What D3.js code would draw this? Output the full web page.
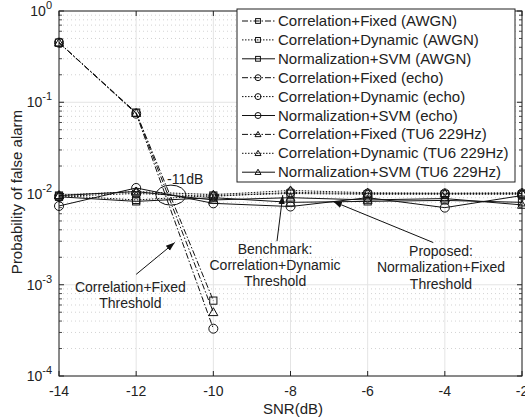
<!DOCTYPE html>
<html>
<head>
<meta charset="utf-8">
<script src="https://cdn.jsdelivr.net/npm/d3@7"></script>
<style>
  body { margin: 0; background: #fff; }
  svg { font-family: "Liberation Sans", Arial, sans-serif; }
</style>
</head>
<body>
<svg id="chart" width="525" height="417"></svg>
<script>
// SNR points
var snr = [-14, -12, -10, -8, -6, -4, -2];
var snrFixed = [-14, -12, -10];

// Correlation + fixed threshold (dash-dot)
var corrFixedAWGN = [0.45, 0.077, 6.7e-4];
var corrFixedEcho = [0.45, 0.075, 3.3e-4];
var corrFixedTU6 = [0.45, 0.076, 5.0e-4];

// Correlation + dynamic threshold (dotted)
var corrDynAWGN = [0.0095, 0.0085, 0.0095, 0.0100, 0.0098, 0.0098, 0.0098];
var corrDynEcho = [0.0093, 0.0100, 0.0093, 0.0103, 0.0100, 0.0100, 0.0100];
var corrDynTU6 = [0.0096, 0.0105, 0.0097, 0.0108, 0.0102, 0.0101, 0.0102];

// Normalization + SVM (solid)
var svmAWGN = [0.0092, 0.0082, 0.0090, 0.0080, 0.0082, 0.0084, 0.0080];
var svmEcho = [0.0073, 0.0115, 0.0078, 0.0072, 0.0090, 0.0070, 0.0095];
var svmTU6 = [0.0095, 0.0105, 0.0085, 0.0090, 0.0085, 0.0088, 0.0075];

var xTicks = [-14, -12, -10, -8, -6, -4, -2];
var yTickExp = [0, -1, -2, -3, -4];

var series = [
  {name: "Correlation+Fixed (AWGN)", x: snrFixed, y: corrFixedAWGN, dash: "6,2,1.5,2", mark: "square"},
  {name: "Correlation+Dynamic (AWGN)", x: snr, y: corrDynAWGN, dash: "1.5,1.5", mark: "square"},
  {name: "Normalization+SVM (AWGN)", x: snr, y: svmAWGN, dash: null, mark: "square"},
  {name: "Correlation+Fixed (echo)", x: snrFixed, y: corrFixedEcho, dash: "6,2,1.5,2", mark: "circle"},
  {name: "Correlation+Dynamic (echo)", x: snr, y: corrDynEcho, dash: "1.5,1.5", mark: "circle"},
  {name: "Normalization+SVM (echo)", x: snr, y: svmEcho, dash: null, mark: "circle"},
  {name: "Correlation+Fixed (TU6 229Hz)", x: snrFixed, y: corrFixedTU6, dash: "6,2,1.5,2", mark: "triangle"},
  {name: "Correlation+Dynamic (TU6 229Hz)", x: snr, y: corrDynTU6, dash: "1.5,1.5", mark: "triangle"},
  {name: "Normalization+SVM (TU6 229Hz)", x: snr, y: svmTU6, dash: null, mark: "triangle"}
];

var margin = {top: 11, right: 3, bottom: 41, left: 59},
    width = 522 - margin.left,
    height = 376 - margin.top;

var svg = d3.select("#chart");
var g = svg.append("g")
    .attr("transform", "translate(" + margin.left + "," + margin.top + ")");

var x = d3.scaleLinear().domain([-14, -2]).range([0, width]);
var y = d3.scaleLog().domain([1e-4, 1]).range([height, 0]);

// minor values for grid / ticks
var minor = [];
yTickExp.slice(1).forEach(function(e) {
  for (var k = 2; k <= 9; k++) minor.push(k * Math.pow(10, e));
});

// grid
g.selectAll("line.minor").data(minor).enter().append("line")
    .attr("x1", 0).attr("x2", width)
    .attr("y1", function(d) { return y(d); }).attr("y2", function(d) { return y(d); })
    .attr("stroke", "#c8c8c8").attr("stroke-width", 0.8).attr("stroke-dasharray", "1,3");

g.selectAll("line.hmaj").data(yTickExp).enter().append("line")
    .attr("x1", 0).attr("x2", width)
    .attr("y1", function(d) { return y(Math.pow(10, d)); }).attr("y2", function(d) { return y(Math.pow(10, d)); })
    .attr("stroke", "#e4e4e4").attr("stroke-width", 1);

g.selectAll("line.vmaj").data(xTicks).enter().append("line")
    .attr("x1", function(d) { return x(d); }).attr("x2", function(d) { return x(d); })
    .attr("y1", 0).attr("y2", height)
    .attr("stroke", "#e4e4e4").attr("stroke-width", 1);

// frame
g.append("rect").attr("width", width).attr("height", height)
    .attr("fill", "none").attr("stroke", "#222").attr("stroke-width", 1);

// tick marks
var tickLen = 5;
xTicks.forEach(function(t) {
  g.append("line").attr("x1", x(t)).attr("x2", x(t)).attr("y1", height).attr("y2", height - tickLen).attr("stroke", "#222");
  g.append("line").attr("x1", x(t)).attr("x2", x(t)).attr("y1", 0).attr("y2", tickLen).attr("stroke", "#222");
});
yTickExp.forEach(function(e) {
  var yy = y(Math.pow(10, e));
  g.append("line").attr("x1", 0).attr("x2", tickLen).attr("y1", yy).attr("y2", yy).attr("stroke", "#222");
  g.append("line").attr("x1", width).attr("x2", width - tickLen).attr("y1", yy).attr("y2", yy).attr("stroke", "#222");
});
minor.forEach(function(m) {
  var yy = y(m);
  g.append("line").attr("x1", 0).attr("x2", 3).attr("y1", yy).attr("y2", yy).attr("stroke", "#222").attr("stroke-width", 0.8);
  g.append("line").attr("x1", width).attr("x2", width - 3).attr("y1", yy).attr("y2", yy).attr("stroke", "#222").attr("stroke-width", 0.8);
});

// tick labels
g.selectAll("text.xt").data(xTicks).enter().append("text")
    .attr("x", function(d) { return x(d); })
    .attr("y", height + 20)
    .attr("text-anchor", "middle")
    .attr("font-size", 14)
    .attr("fill", "#222")
    .text(function(d) { return d; });

yTickExp.forEach(function(e) {
  var t = g.append("text")
      .attr("x", -7).attr("y", y(Math.pow(10, e)) + 5)
      .attr("text-anchor", "end").attr("font-size", 14).attr("fill", "#222");
  t.append("tspan").text("10");
  t.append("tspan").attr("dy", -7).attr("font-size", 11).text(e);
});

// axis titles
svg.append("text")
    .attr("x", 293).attr("y", 414)
    .attr("text-anchor", "middle").attr("font-size", 15).attr("fill", "#222")
    .text("SNR(dB)");
svg.append("text")
    .attr("transform", "translate(22,192) rotate(-90)")
    .attr("text-anchor", "middle").attr("font-size", 15).attr("fill", "#222")
    .text("Probability of false alarm");

// markers
function drawMarker(sel, type, cx, cy, r) {
  if (type == "square") {
    sel.append("rect").attr("x", cx - r * 0.8).attr("y", cy - r * 0.8)
        .attr("width", r * 1.6).attr("height", r * 1.6)
        .attr("fill", "none").attr("stroke", "#111").attr("stroke-width", 1);
  } else if (type == "circle") {
    sel.append("circle").attr("cx", cx).attr("cy", cy).attr("r", r)
        .attr("fill", "none").attr("stroke", "#111").attr("stroke-width", 1);
  } else {
    sel.append("path")
        .attr("d", "M" + cx + "," + (cy - r) + "L" + (cx + r) + "," + (cy + r * 0.75) + "L" + (cx - r) + "," + (cy + r * 0.75) + "Z")
        .attr("fill", "none").attr("stroke", "#111").attr("stroke-width", 1);
  }
}

var line = d3.line()
    .x(function(d) { return x(d[0]); })
    .y(function(d) { return y(d[1]); });

series.forEach(function(s) {
  var pts = s.x.map(function(v, i) { return [v, s.y[i]]; });
  g.append("path")
      .attr("d", line(pts))
      .attr("fill", "none")
      .attr("stroke", "#111")
      .attr("stroke-width", 1)
      .attr("stroke-dasharray", s.dash);
  pts.forEach(function(p) {
    drawMarker(g, s.mark, x(p[0]), y(p[1]), 4.5);
  });
});

// annotations
var ann = g.append("g").attr("font-size", 14).attr("fill", "#222").attr("text-anchor", "middle");

// -11dB ellipse
g.append("ellipse")
    .attr("cx", x(-11.1)).attr("cy", y(0.0096))
    .attr("rx", 15).attr("ry", 10)
    .attr("fill", "none").attr("stroke", "#111").attr("stroke-width", 1);
ann.append("text").attr("x", x(-11.2)).attr("y", y(0.0128)).attr("text-anchor", "start").text("-11dB");

svg.append("defs").append("marker")
    .attr("id", "arr").attr("viewBox", "0 0 10 10").attr("refX", 10).attr("refY", 5)
    .attr("markerWidth", 9).attr("markerHeight", 9).attr("orient", "auto-start-reverse")
    .append("path").attr("d", "M0,1.5L10,5L0,8.5Z").attr("fill", "#111");

function arrow(x1, y1, x2, y2) {
  g.append("line")
      .attr("x1", x(x1)).attr("y1", y(y1)).attr("x2", x(x2)).attr("y2", y(y2))
      .attr("stroke", "#111").attr("stroke-width", 1)
      .attr("marker-end", "url(#arr)");
}

// Correlation+Fixed
ann.append("text").attr("x", x(-12.15)).attr("y", y(8.3e-4)).text("Correlation+Fixed");
ann.append("text").attr("x", x(-12.15)).attr("y", y(5.6e-4)).text("Threshold");
arrow(-12.0, 1.3e-3, -11.0, 2.9e-3);

// Benchmark
ann.append("text").attr("x", x(-8.4)).attr("y", y(2.2e-3)).text("Benchmark:");
ann.append("text").attr("x", x(-8.4)).attr("y", y(1.45e-3)).text("Correlation+Dynamic");
ann.append("text").attr("x", x(-8.4)).attr("y", y(0.97e-3)).text("Threshold");
arrow(-8.35, 3.0e-3, -8.2, 0.0096);

// Proposed
ann.append("text").attr("x", x(-4.1)).attr("y", y(2.05e-3)).text("Proposed:");
ann.append("text").attr("x", x(-4.1)).attr("y", y(1.37e-3)).text("Normalization+Fixed");
ann.append("text").attr("x", x(-4.1)).attr("y", y(0.89e-3)).text("Threshold");
arrow(-4.3, 2.9e-3, -6.9, 0.0082);

// legend
var lg = svg.append("g").attr("transform", "translate(237,9)");
lg.append("rect").attr("width", 278).attr("height", 173)
    .attr("fill", "#fff").attr("stroke", "#222").attr("stroke-width", 1);
series.forEach(function(s, i) {
  var yy = 12 + i * 18.9;
  lg.append("line").attr("x1", 5).attr("x2", 38).attr("y1", yy).attr("y2", yy)
      .attr("stroke", "#111").attr("stroke-width", 1).attr("stroke-dasharray", s.dash);
  drawMarker(lg, s.mark, 21, yy, 3);
  lg.append("text").attr("x", 41).attr("y", yy + 5)
      .attr("font-size", 15).attr("fill", "#222").text(s.name);
});
</script>
</body>
</html>
